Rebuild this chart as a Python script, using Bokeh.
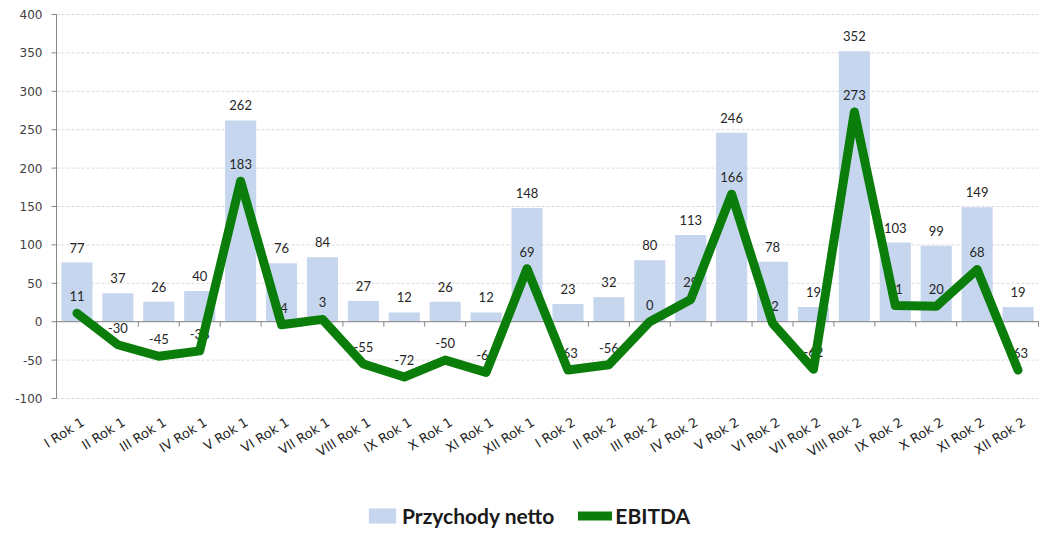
from bokeh.plotting import figure
from bokeh.models import ColumnDataSource, Range1d, Legend, LegendItem
from bokeh.core.properties import value
from bokeh.embed import file_html
from bokeh.resources import INLINE

categories = ["I Rok 1", "II Rok 1", "III Rok 1", "IV Rok 1", "V Rok 1", "VI Rok 1",
              "VII Rok 1", "VIII Rok 1", "IX Rok 1", "X Rok 1", "XI Rok 1", "XII Rok 1",
              "I Rok 2", "II Rok 2", "III Rok 2", "IV Rok 2", "V Rok 2", "VI Rok 2",
              "VII Rok 2", "VIII Rok 2", "IX Rok 2", "X Rok 2", "XI Rok 2", "XII Rok 2"]
przychody = [77, 37, 26, 40, 262, 76, 84, 27, 12, 26, 12, 148,
             23, 32, 80, 113, 246, 78, 19, 352, 103, 99, 149, 19]
ebitda = [11, -30, -45, -38, 183, -4, 3, -55, -72, -50, -66, 69,
          -63, -56, 0, 29, 166, -2, -62, 273, 21, 20, 68, -63]
y_ticks = [-100, -50, 0, 50, 100, 150, 200, 250, 300, 350, 400]

FONT = "Lato"
AXFONT = "DejaVu Sans"
W, H = 1048, 546
n = len(categories)
xs = list(range(1, n + 1))
ymin, ymax = y_ticks[0], y_ticks[-1]

# plot-area placement inside the canvas (pixels)
PL, PR, PT, PB = 56, 1038, 14, 398
px_x = (PR - PL) / n
px_y = (PB - PT) / (ymax - ymin)
x_lo = 0.5 - PL / px_x
x_hi = n + 0.5 + (W - PR) / px_x
y_hi = ymax + PT / px_y
y_lo = ymin - (H - PB) / px_y

src = ColumnDataSource(dict(
    x=xs, cat=categories, rev=przychody, eb=ebitda,
    rev_lbl=[str(v) for v in przychody], eb_lbl=[str(v) for v in ebitda],
))
bounds = ColumnDataSource(dict(x=[i + 0.5 for i in range(0, n + 1)]))
yt = ColumnDataSource(dict(y=y_ticks, lbl=[str(v) for v in y_ticks]))

p = figure(width=W, height=H, output_backend="svg", toolbar_location=None,
           x_range=Range1d(x_lo, x_hi), y_range=Range1d(y_lo, y_hi),
           min_border=0, x_axis_type=None, y_axis_type=None)
p.outline_line_color = None
p.background_fill_color = "white"
p.border_fill_color = "white"
p.xgrid.grid_line_color = None
p.ygrid.grid_line_color = None

# gridlines
p.segment(x0=0.5, x1=n + 0.5, y0="y", y1="y", source=yt, line_color="#d9d9d9",
          line_width=1, line_dash="3 2")

# value axis: line, outward ticks, labels
p.segment(x0=0.5, x1=0.5, y0=ymin, y1=ymax, line_color="#868686", line_width=1)
p.segment(x0=0.5 - 5 / px_x, x1=0.5, y0="y", y1="y", source=yt,
          line_color="#868686", line_width=1)
p.text(x=0.5, y="y", text="lbl", source=yt, x_offset=-14, text_align="right",
       text_baseline="middle", text_font=value(AXFONT), text_font_size="12px",
       text_color="#404040")

# bars
bars = p.vbar(x="x", top="rev", width=0.76, source=src, fill_color="#c6d6ee",
              line_color=None)

# category axis at zero with boundary ticks
p.segment(x0=0.5, x1=n + 0.5, y0=0, y1=0, line_color="#868686", line_width=1)
p.segment(x0="x", x1="x", y0=0, y1=-5 / px_y, source=bounds, line_color="#868686",
          line_width=1)

# category labels below the plot area
p.text(x="x", y=ymin, text="cat", source=src, angle=0.56, x_offset=2, y_offset=16,
       text_align="right", text_baseline="top", text_font=value(AXFONT),
       text_font_size="13px", text_color="#262626")

# data labels
p.text(x="x", y="rev", text="rev_lbl", source=src, y_offset=-15, text_align="center",
       text_baseline="middle", text_font=value(FONT), text_font_size="13px",
       text_color="#262626")
p.text(x="x", y="eb", text="eb_lbl", source=src, y_offset=-17, text_align="center",
       text_baseline="middle", text_font=value(FONT), text_font_size="13px",
       text_color="#262626")

line = p.line(x="x", y="eb", source=src, line_color="#0a7d0a", line_width=9,
              line_join="round", line_cap="round")

legend = Legend(items=[LegendItem(label="Przychody netto", renderers=[bars]),
                       LegendItem(label="EBITDA", renderers=[line])],
                orientation="horizontal", location=(365, 18))
legend.label_text_font = FONT
legend.label_text_font_style = "bold"
legend.label_text_font_size = "21px"
legend.label_text_color = "#1a1a1a"
legend.glyph_width = 34
legend.glyph_height = 19
legend.label_standoff = 3
legend.spacing = 24
legend.border_line_color = None
legend.background_fill_alpha = 0
legend.margin = 0
legend.padding = 4
p.add_layout(legend, "center")

open("out.html", "w").write(file_html(p, INLINE))
